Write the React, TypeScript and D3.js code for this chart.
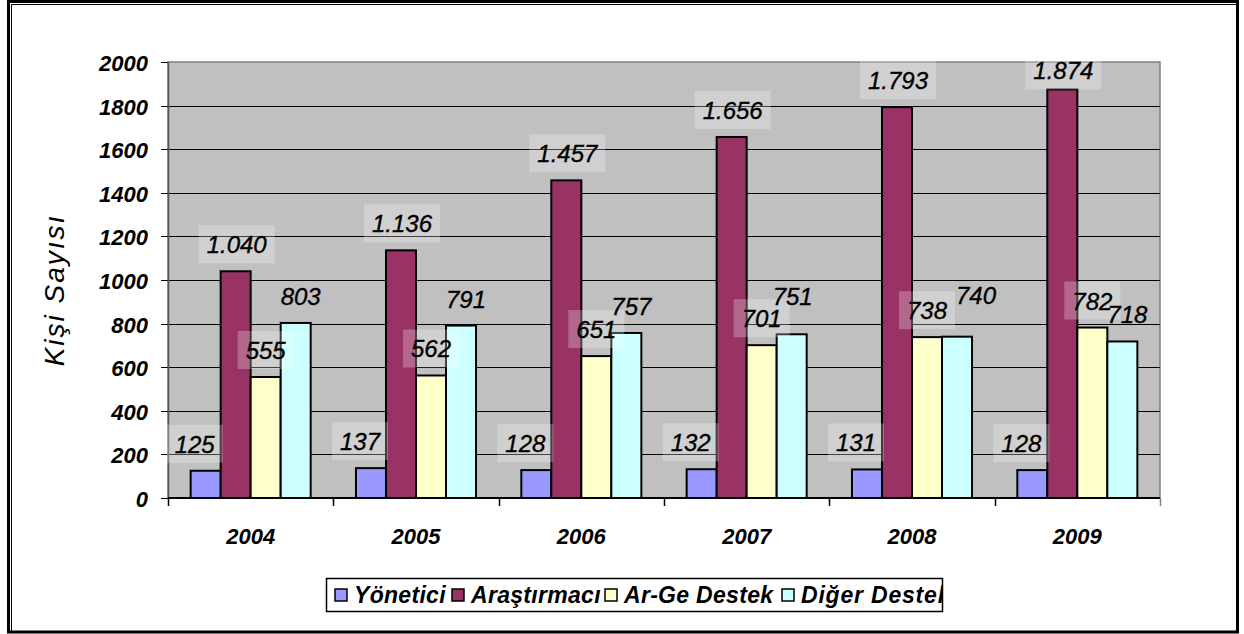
import React, { useEffect, useRef } from 'react';
import * as d3 from 'd3';

// chart data
const years = ['2004', '2005', '2006', '2007', '2008', '2009'];
const seriesNames = ['Yönetici', 'Araştırmacı', 'Ar-Ge Destek', 'Diğer Destek'];
const yonetici = [125, 137, 128, 132, 131, 128];
const arastirmaci = [1040, 1136, 1457, 1656, 1793, 1874];
const argeDestek = [555, 562, 651, 701, 738, 782];
const digerDestek = [803, 791, 757, 751, 740, 718];
const yTicks = [0, 200, 400, 600, 800, 1000, 1200, 1400, 1600, 1800, 2000];

const seriesColors = ['#9999FF', '#993366', '#FFFFCC', '#CCFFFF'];
// label layout tweaks (the original has a few hand-moved labels)
const labelShift = [-11, 1, 0, 5];
const labelBoxed = [true, true, true, false];
const labelNudge: Record<string, [number, number]> = {
  '3-2007': [-4, -11],
  '3-2008': [14, -15],
  '1-2009': [0, 8]
};
const legendX = [335, 452, 605, 782];

const W = 1244;
const H = 634;
const FONT = '"Liberation Sans", Arial, sans-serif';

const trFormat = d3.formatLocale({
  decimal: ',',
  thousands: '.',
  grouping: [3],
  currency: ['', '']
}).format(',d');

function App() {
  const svgRef = useRef<SVGSVGElement>(null);

  useEffect(() => {
    document.body.style.margin = '0';
    if (!svgRef.current) return;
    const svg = d3.select(svgRef.current);
    svg.selectAll('*').remove();

    const plot = { left: 168, right: 1160, top: 62, bottom: 498 };
    const values = [yonetici, arastirmaci, argeDestek, digerDestek];

    const x0 = d3.scaleBand<string>()
      .domain(years)
      .range([plot.left, plot.right])
      .paddingInner(0.274)
      .paddingOuter(0.137);
    const x1 = d3.scaleBand<number>()
      .domain(d3.range(seriesNames.length))
      .range([0, x0.bandwidth()]);
    const y = d3.scaleLinear().domain([0, 2000]).range([plot.bottom, plot.top]);

    // outer frame
    svg.append('rect')
      .attr('x', 8.5).attr('y', 1.5).attr('width', 1229).attr('height', 630.5)
      .attr('fill', '#fff').attr('stroke', '#000').attr('stroke-width', 3);
    svg.append('path')
      .attr('d', `M11.5,632 V4.5 H1237`)
      .attr('fill', 'none').attr('stroke', '#000').attr('stroke-width', 1);

    // plot area
    svg.append('rect')
      .attr('x', plot.left).attr('y', plot.top)
      .attr('width', plot.right - plot.left).attr('height', plot.bottom - plot.top)
      .attr('fill', '#C0C0C0').attr('stroke', '#808080').attr('stroke-width', 1.5);

    // gridlines + y ticks
    const gy = svg.append('g');
    yTicks.forEach(t => {
      const yy = Math.round(y(t)) + 0.5;
      if (t > 0 && t < 2000) {
        gy.append('line')
          .attr('x1', plot.left).attr('x2', plot.right)
          .attr('y1', yy).attr('y2', yy)
          .attr('stroke', '#000').attr('stroke-width', 1);
      }
      gy.append('line')
        .attr('x1', plot.left - 7).attr('x2', plot.left)
        .attr('y1', yy).attr('y2', yy)
        .attr('stroke', '#000').attr('stroke-width', 1);
      gy.append('text')
        .attr('x', plot.left - 20).attr('y', yy + 8)
        .attr('text-anchor', 'end')
        .attr('font-family', FONT).attr('font-size', 22)
        .attr('font-weight', 'bold').attr('font-style', 'italic')
        .attr('fill', '#000')
        .text(t);
    });

    // y axis line
    svg.append('line')
      .attr('x1', plot.left + 0.5).attr('x2', plot.left + 0.5)
      .attr('y1', plot.top).attr('y2', plot.bottom)
      .attr('stroke', '#555').attr('stroke-width', 1.5);

    // bars
    years.forEach((yr, i) => {
      values.forEach((vals, s) => {
        const bx = (x0(yr) as number) + (x1(s) as number);
        svg.append('rect')
          .attr('x', bx).attr('y', y(vals[i]))
          .attr('width', x1.bandwidth()).attr('height', y(0) - y(vals[i]))
          .attr('fill', seriesColors[s])
          .attr('stroke', '#000').attr('stroke-width', 2);
      });
    });

    // x axis
    svg.append('line')
      .attr('x1', plot.left).attr('x2', plot.right)
      .attr('y1', plot.bottom).attr('y2', plot.bottom)
      .attr('stroke', '#000').attr('stroke-width', 2);
    d3.range(years.length + 1).forEach(k => {
      const xx = Math.round(plot.left + k * x0.step()) + 0.5;
      svg.append('line')
        .attr('x1', xx).attr('x2', xx)
        .attr('y1', plot.bottom).attr('y2', plot.bottom + 8)
        .attr('stroke', k === years.length ? '#808080' : '#000').attr('stroke-width', 1.5);
    });
    years.forEach(yr => {
      svg.append('text')
        .attr('x', (x0(yr) as number) + x0.bandwidth() / 2)
        .attr('y', 544)
        .attr('text-anchor', 'middle')
        .attr('font-family', FONT).attr('font-size', 22)
        .attr('font-weight', 'bold').attr('font-style', 'italic')
        .text(yr);
    });

    // data labels, with translucent boxes
    const lbl = svg.append('g');
    values.forEach((vals, s) => {
      years.forEach((yr, i) => {
        const nudge = labelNudge[`${s}-${yr}`] || [0, 0];
        const cx = (x0(yr) as number) + (x1(s) as number) + x1.bandwidth() / 2 + labelShift[s] + nudge[0];
        const base = y(vals[i]) - 18 + nudge[1];
        const g = lbl.append('g');
        const box = g.append('rect').attr('fill', 'rgba(255,255,255,0.26)');
        const txt = g.append('text')
          .attr('x', cx).attr('y', base)
          .attr('text-anchor', 'middle')
          .attr('font-family', FONT).attr('font-size', 24)
          .attr('font-style', 'italic')
          .attr('fill', '#000')
          .attr('stroke', '#000').attr('stroke-width', 0.35)
          .text(trFormat(vals[i]));
        if (labelBoxed[s]) {
          const w = (txt.node() as SVGTextElement).getComputedTextLength();
          box.attr('x', cx - w / 2 - 8).attr('y', base - 28)
            .attr('width', w + 16).attr('height', 38);
        } else {
          box.remove();
        }
      });
    });

    // y axis title
    svg.append('text')
      .attr('transform', `translate(64,290) rotate(-90)`)
      .attr('text-anchor', 'middle')
      .attr('font-family', FONT).attr('font-size', 28)
      .attr('font-style', 'italic')
      .attr('letter-spacing', 2)
      .text('Kişi Sayısı');

    // legend
    const lg = { x: 326, y: 578, w: 616, h: 33 };
    const defs = svg.append('defs');
    defs.append('clipPath').attr('id', 'legclip')
      .append('rect').attr('x', lg.x).attr('y', lg.y).attr('width', lg.w).attr('height', lg.h);
    svg.append('rect')
      .attr('x', lg.x + 0.5).attr('y', lg.y + 0.5).attr('width', lg.w).attr('height', lg.h)
      .attr('fill', '#fff').attr('stroke', '#000').attr('stroke-width', 1.5);
    const lgItems = svg.append('g').attr('clip-path', 'url(#legclip)');
    seriesNames.forEach((name, s) => {
      const lx = legendX[s];
      lgItems.append('rect')
        .attr('x', lx).attr('y', lg.y + 11)
        .attr('width', 12).attr('height', 12)
        .attr('fill', seriesColors[s]).attr('stroke', '#000').attr('stroke-width', 1.5);
      lgItems.append('text')
        .attr('x', lx + 19).attr('y', lg.y + 25)
        .attr('font-family', FONT).attr('font-size', 23)
        .attr('font-weight', 'bold').attr('font-style', 'italic')
        .attr('letter-spacing', s === 3 ? 0.8 : 0.3)
        .text(name);
    });
  }, []);

  return <svg ref={svgRef} width={W} height={H} style={{ display: 'block' }} />;
}

export default App;
